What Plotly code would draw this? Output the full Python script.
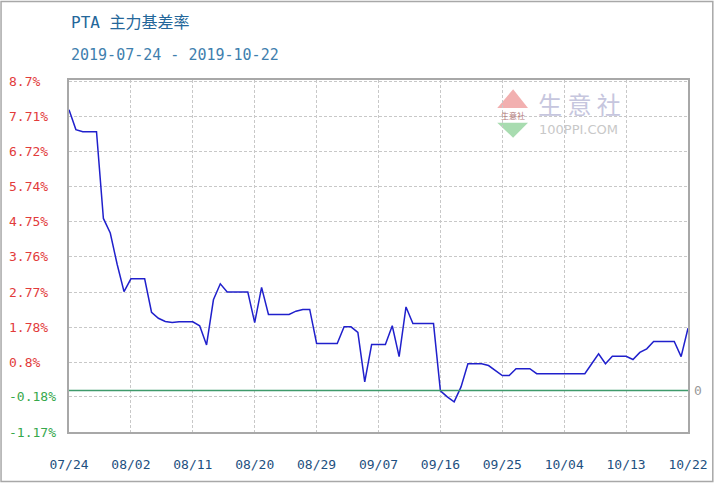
import plotly.graph_objects as go
import pandas as pd

# ---------------- data ----------------
chart_title = "PTA 主力基差率"
chart_subtitle = "2019-07-24 - 2019-10-22"
start_date = "2019-07-24"

# daily basis rate (%) from 2019-07-24 to 2019-10-22
basis_rate = [
    7.90, 7.34, 7.28, 7.28, 7.28, 4.84, 4.43, 3.55, 2.78, 3.14,
    3.14, 3.14, 2.20, 2.03, 1.94, 1.91, 1.93, 1.93, 1.93, 1.82,
    1.28, 2.55, 3.00, 2.77, 2.77, 2.77, 2.77, 1.91, 2.90, 2.14,
    2.14, 2.14, 2.14, 2.23, 2.28, 2.28, 1.32, 1.32, 1.32, 1.32,
    1.79, 1.79, 1.63, 0.24, 1.29, 1.29, 1.29, 1.82, 0.95, 2.35,
    1.88, 1.88, 1.88, 1.88, -0.01, -0.18, -0.32, 0.10, 0.75, 0.75,
    0.75, 0.70, 0.56, 0.42, 0.42, 0.61, 0.61, 0.61, 0.47, 0.47,
    0.47, 0.47, 0.47, 0.47, 0.47, 0.47, 0.75, 1.03, 0.75, 0.96,
    0.96, 0.96, 0.87, 1.07, 1.17, 1.38, 1.38, 1.38, 1.38, 0.95,
    1.75,
]
dates = pd.date_range(start_date, periods=len(basis_rate), freq="D")

x_tick_dates = ["2019-07-24", "2019-08-02", "2019-08-11", "2019-08-20",
                "2019-08-29", "2019-09-07", "2019-09-16", "2019-09-25",
                "2019-10-04", "2019-10-13", "2019-10-22"]
x_tick_text = ["07/24", "08/02", "08/11", "08/20", "08/29", "09/07",
               "09/16", "09/25", "10/04", "10/13", "10/22"]

y_tick_vals = [-1.17, -0.18, 0.8, 1.78, 2.77, 3.76, 4.75, 5.74, 6.72, 7.71, 8.7]
y_tick_text = ["-1.17%", "-0.18%", "0.8%", "1.78%", "2.77%", "3.76%",
               "4.75%", "5.74%", "6.72%", "7.71%", "8.7%"]

zero_level = 0
zero_label = "0"

# ---------------- layout geometry ----------------
W, H = 720, 484
L, R, T, B = 69, 27, 80, 48
PW, PH = W - L - R, H - T - B


def px(xp):
    return (xp - L) / PW


def py(yp):
    return (H - B - yp) / PH


MONO = "DejaVu Sans Mono, Noto Sans CJK SC, monospace"

fig = go.Figure()
fig.add_trace(go.Scatter(
    x=dates, y=basis_rate, mode="lines",
    line=dict(color="#2020cc", width=1.5),
    hoverinfo="skip", showlegend=False,
))

shapes = []
# zero reference line
shapes.append(dict(type="line", xref="paper", yref="y", x0=0, x1=1,
                   y0=zero_level, y1=zero_level,
                   line=dict(color="#3f9a6b", width=1.5), layer="above"))
# outer border of the picture
shapes.append(dict(type="rect", xref="paper", yref="paper",
                   x0=px(0.5), x1=px(718), y0=py(0.5), y1=py(486),
                   line=dict(color="#a8a8a8", width=1.5)))
# watermark logo triangles
shapes.append(dict(type="path", xref="paper", yref="paper",
                   path=f"M {px(500.7)},{py(108.3)} L {px(516.7)},{py(89.3)} L {px(531.7)},{py(108.3)} Z",
                   fillcolor="#f2b0b0", line=dict(width=0), layer="below"))
shapes.append(dict(type="path", xref="paper", yref="paper",
                   path=f"M {px(500.7)},{py(123.3)} L {px(531.7)},{py(123.3)} L {px(516.7)},{py(138.3)} Z",
                   fillcolor="#a8dcb0", line=dict(width=0), layer="below"))

annotations = []
# title + subtitle
annotations.append(dict(text=chart_title, xref="paper", yref="paper",
                        x=px(69), y=py(22), xanchor="left", yanchor="middle",
                        showarrow=False,
                        font=dict(family=MONO, size=16, color="#24679a")))
annotations.append(dict(text=chart_subtitle, xref="paper", yref="paper",
                        x=px(69), y=py(55), xanchor="left", yanchor="middle",
                        showarrow=False,
                        font=dict(family=MONO, size=15, color="#3f7fae")))
# y tick labels (left aligned)
for v, t in zip(y_tick_vals, y_tick_text):
    annotations.append(dict(text=t, xref="paper", yref="y", x=px(6), y=v,
                            xanchor="left", yanchor="middle", showarrow=False,
                            font=dict(family=MONO, size=13,
                                      color="#e23b3b" if v > 0 else "#36a84c")))
# zero label on right
annotations.append(dict(text=zero_label, xref="paper", yref="y", x=px(697),
                        y=zero_level, xanchor="left", yanchor="middle",
                        showarrow=False,
                        font=dict(family=MONO, size=13, color="#9a9a9a")))
# watermark text
annotations.append(dict(text="生 意 社", xref="paper", yref="paper",
                        x=px(540), y=py(104), xanchor="left", yanchor="middle",
                        showarrow=False,
                        font=dict(family="Noto Sans CJK SC", size=24, color="#c6c6de")))
annotations.append(dict(text="100PPI.COM", xref="paper", yref="paper",
                        x=px(541), y=py(130), xanchor="left", yanchor="middle",
                        showarrow=False,
                        font=dict(family="DejaVu Sans", size=13, color="#c8c8c8")))
annotations.append(dict(text="生意社", xref="paper", yref="paper",
                        x=px(516.7), y=py(115.8), xanchor="center", yanchor="middle",
                        showarrow=False,
                        font=dict(family="Noto Sans CJK SC", size=8, color="#b07878")))

fig.update_layout(
    width=W, height=H,
    margin=dict(l=L, r=R, t=T, b=B, pad=0),
    paper_bgcolor="white", plot_bgcolor="white",
    showlegend=False,
    shapes=shapes, annotations=annotations,
    xaxis=dict(
        type="date",
        range=[x_tick_dates[0], x_tick_dates[-1]],
        tickmode="array", tickvals=x_tick_dates, ticktext=x_tick_text,
        showgrid=True, gridcolor="#c8c8c8", griddash="3px,2px", gridwidth=1,
        showline=True, mirror=True, linecolor="#a8a8a8", linewidth=1.5,
        ticks="", ticklabelstandoff=20,
        tickfont=dict(family=MONO, size=13, color="#1e5080"),
        zeroline=False, fixedrange=True,
    ),
    yaxis=dict(
        range=[-1.17, 8.736],
        tickmode="array", tickvals=y_tick_vals,
        showticklabels=False,
        showgrid=True, gridcolor="#c8c8c8", griddash="3px,2px", gridwidth=1,
        showline=True, mirror=True, linecolor="#a8a8a8", linewidth=1.5,
        ticks="", zeroline=False, fixedrange=True,
    ),
)

fig.write_html("out.html")
